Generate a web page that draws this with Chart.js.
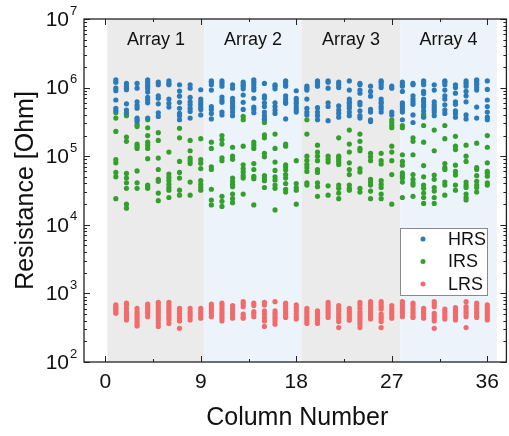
<!DOCTYPE html>
<html>
<head>
<meta charset="utf-8">
<script src="https://cdn.jsdelivr.net/npm/chart.js@4.4.1/dist/chart.umd.min.js"></script>
<style>
  html, body { margin: 0; padding: 0; background: #fff; }
</style>
</head>
<body>
<canvas id="myChart" width="509" height="436"></canvas>
<script>
// columnas 1..36
const columns = [1, 2, 3, 4, 5, 6, 7, 8, 9, 10, 11, 12, 13, 14, 15, 16, 17, 18,
  19, 20, 21, 22, 23, 24, 25, 26, 27, 28, 29, 30, 31, 32, 33, 34, 35, 36];

// resistencias por columna [Ohm]
const hrsByColumn = [
  [1.3e6, 1.2e6, 9.8e5, 9.0e5, 6.6e5, 5.0e5, 4.6e5],
  [1.15e6, 1.05e6, 9.8e5, 9.3e5, 5.8e5, 4.7e5, 4.3e5],
  [1.15e6, 9.8e5, 6.2e5, 5.5e5, 5.0e5, 3.6e5, 3.4e5, 3.2e5],
  [1.3e6, 1.2e6, 1.1e6, 1.03e6, 9.6e5, 8.6e5, 7.2e5, 6.6e5, 6.0e5, 3.6e5],
  [1.2e6, 1.1e6, 7.6e5, 7.0e5, 5.8e5, 4.3e5, 3.8e5],
  [1.25e6, 1.15e6, 1.1e6, 6.8e5, 5.9e5, 5.2e5],
  [1.1e6, 8.9e5, 7.5e5, 6.1e5, 5.0e5, 4.2e5, 3.9e5, 3.4e5],
  [1.1e6, 9.8e5, 7.2e5, 6.2e5, 5.6e5, 5.0e5, 4.5e5, 3.6e5],
  [9.3e5, 6.8e5, 6.2e5, 5.7e5, 5.2e5, 4.8e5, 4.0e5],
  [1.25e6, 1.2e6, 1.1e6, 9.2e5, 5.3e5, 4.8e5, 4.2e5, 3.5e5],
  [1.25e6, 1.15e6, 1.05e6, 7.3e5, 6.6e5, 6.1e5, 4.4e5, 4.0e5],
  [1.1e6, 9.8e5, 7.0e5, 6.3e5, 5.8e5, 5.3e5, 4.9e5, 4.4e5, 3.9e5],
  [1.2e6, 1.1e6, 1.05e6, 9.6e5, 7.8e5, 6.1e5, 4.8e5],
  [1.3e6, 1.2e6, 1.1e6, 1.0e6, 9.2e5, 7.0e5, 5.2e5, 4.8e5, 4.3e5],
  [1.15e6, 7.6e5, 7.0e5, 6.0e5, 5.3e5, 4.4e5, 3.9e5, 3.5e5],
  [1.1e6, 1.05e6, 9.6e5, 6.0e5, 5.3e5, 4.7e5, 4.2e5],
  [1.25e6, 1.2e6, 1.1e6, 1.05e6, 7.6e5, 6.8e5, 6.2e5, 5.9e5, 3.5e5],
  [9.0e5, 7.0e5, 6.4e5, 5.9e5, 5.3e5, 4.8e5, 4.4e5],
  [1.05e6, 9.8e5, 9.2e5, 6.8e5, 5.0e5, 4.4e5, 4.0e5],
  [1.25e6, 1.2e6, 1.1e6, 1.05e6, 5.1e5, 4.4e5, 3.9e5, 3.4e5],
  [1.25e6, 1.2e6, 9.8e5, 6.0e5, 5.3e5, 3.3e5],
  [1.2e6, 1.1e6, 1.0e6, 5.4e5, 4.7e5, 4.2e5, 3.7e5],
  [1.25e6, 9.2e5, 6.8e5, 6.2e5, 5.9e5, 5.4e5, 5.0e5, 4.4e5, 3.9e5],
  [1.15e6, 1.1e6, 9.2e5, 8.3e5, 6.1e5, 5.6e5, 4.6e5, 3.9e5, 3.6e5],
  [1.05e6, 8.8e5, 7.5e5, 4.8e5, 4.4e5, 3.4e5, 3.2e5],
  [1.25e6, 1.2e6, 1.1e6, 1.0e6, 6.8e5, 6.2e5, 5.9e5, 5.3e5, 4.9e5, 4.4e5],
  [1.05e6, 9.8e5, 4.4e5, 4.0e5],
  [1.2e6, 1.1e6, 1.05e6, 8.8e5, 6.0e5, 5.6e5, 5.2e5, 4.8e5, 4.4e5, 3.4e5],
  [1.15e6, 1.1e6, 7.6e5, 6.8e5, 6.2e5, 5.7e5, 4.0e5, 3.1e5],
  [1.25e6, 1.2e6, 1.1e6, 8.8e5, 8.2e5, 6.8e5, 6.2e5, 5.6e5, 5.2e5, 4.6e5, 3.7e5],
  [1.1e6, 9.2e5, 6.2e5, 5.6e5, 5.2e5, 4.8e5, 4.4e5, 3.9e5],
  [1.25e6, 1.2e6, 1.1e6, 9.2e5, 7.6e5, 6.8e5, 5.6e5, 4.7e5, 4.2e5],
  [1.1e6, 1.0e6, 8.3e5, 6.2e5, 5.7e5, 4.6e5, 4.2e5, 3.7e5],
  [1.25e6, 1.15e6, 1.05e6, 8.8e5, 7.6e5, 6.2e5, 4.0e5, 3.5e5],
  [1.3e6, 1.25e6, 1.15e6, 1.1e6, 1.0e6, 9.2e5, 5.2e5, 3.6e5],
  [1.25e6, 9.4e5, 6.6e5, 5.3e5, 4.4e5, 3.7e5, 3.4e5]
];

const irsByColumn = [
  [4.3e5, 3.6e5, 2.3e5, 8.9e4, 8.0e4, 5.8e4, 5.0e4, 2.4e4],
  [4.1e5, 3.9e5, 1.9e5, 1.65e5, 5.6e4, 4.8e4, 4.1e4, 3.4e4, 2.0e4, 1.75e4],
  [2.9e5, 2.7e5, 1.5e5, 1.4e5, 1.3e5, 6.1e4, 4.1e4, 3.4e4],
  [3.4e5, 2.6e5, 2.0e5, 1.6e5, 1.45e5, 1.3e5, 9.2e4, 3.8e4, 3.6e4, 3.4e4],
  [2.2e5, 1.7e5, 9.4e4, 6.4e4, 4.6e4, 4.3e4, 2.9e4, 2.25e4],
  [1.15e5, 5.5e4, 4.9e4, 4.4e4, 3.9e4, 3.5e4, 3.2e4, 2.5e4],
  [2.55e5, 1.85e5, 8.4e4, 5.8e4, 4.8e4, 3.2e4, 2.7e4],
  [1.7e5, 1.2e5, 9.4e4, 8.6e4, 7.8e4, 4.2e4, 2.7e4],
  [1.8e5, 8.9e4, 7.9e4, 6.6e4, 4.4e4, 3.9e4, 3.5e4, 3.2e4],
  [1.6e5, 1.3e5, 7.0e4, 6.4e4, 3.3e4, 2.3e4, 1.95e4],
  [2.0e5, 1.75e5, 1.5e5, 9.5e4, 8.6e4, 2.6e4, 2.2e4, 1.85e4],
  [1.35e5, 1.0e5, 9.0e4, 4.8e4, 4.3e4, 3.9e4, 3.6e4, 2.8e4, 2.4e4, 2.1e4],
  [3.8e5, 3.4e5, 1.4e5, 7.5e4, 6.6e4, 5.9e4, 5.2e4, 4.8e4, 2.8e4],
  [1.6e5, 1.45e5, 1.3e5, 7.8e4, 6.4e4, 5.1e4, 4.7e4, 1.95e4],
  [3.4e5, 3.1e5, 2.05e5, 1.85e5, 1.1e5, 9.8e4, 5.2e4, 4.8e4, 4.4e4, 3.5e4],
  [2.1e5, 1.3e5, 8.2e4, 6.2e4, 5.0e4, 4.5e4, 3.8e4, 3.4e4, 1.65e4],
  [1.5e5, 1.4e5, 7.5e4, 7.0e4, 6.3e4, 5.4e4, 4.8e4, 4.0e4, 3.3e4, 3.0e4],
  [8.6e4, 4.0e4, 3.5e4, 3.2e4, 2.0e4],
  [3.4e5, 2.1e5, 1.0e5, 8.7e4, 7.6e4, 6.8e4, 6.0e4, 4.1e4, 3.8e4],
  [1.45e5, 1.15e5, 1.0e5, 8.6e4, 6.4e4, 5.8e4, 4.1e4, 3.6e4, 2.6e4],
  [1.0e5, 9.0e4, 8.2e4, 3.7e4, 2.7e4],
  [1.85e5, 1.0e5, 9.5e4, 8.8e4, 8.2e4, 7.6e4, 3.8e4, 3.4e4, 2.9e4, 2.4e4],
  [2.4e5, 1.5e5, 1.15e5, 8.0e4, 6.4e4, 5.4e4, 3.8e4, 3.4e4, 3.2e4],
  [2.1e5, 1.65e5, 1.3e5, 1.2e5, 6.6e4, 5.9e4, 3.4e4, 3.0e4],
  [1.1e5, 9.8e4, 8.6e4, 4.6e4, 4.2e4, 3.8e4, 3.1e4, 2.4e4],
  [1.1e5, 8.6e4, 7.7e4, 4.4e4, 3.9e4, 3.5e4, 2.8e4, 2.4e4],
  [3.4e5, 3.1e5, 2.8e5, 2.6e5, 1.4e5, 1.15e5, 8.6e4, 5.4e4, 2.0e4],
  [2.8e5, 2.6e5, 1.05e5, 8.4e4, 7.4e4, 5.7e4, 5.2e4, 4.8e4, 4.2e4, 2.5e4],
  [1.85e5, 1.65e5, 1.05e5, 5.4e4, 4.6e4, 4.1e4, 3.8e4, 2.6e4],
  [4.1e5, 3.8e5, 2.8e5, 1.6e5, 7.3e4, 5.0e4, 3.8e4, 3.4e4, 2.9e4, 2.5e4, 2.05e4],
  [2.4e5, 1.2e5, 5.3e4, 4.6e4, 3.5e4, 3.1e4, 2.5e4, 2.05e4],
  [2.8e5, 1.8e5, 7.8e4, 6.8e4, 6.4e4, 4.2e4, 3.8e4, 2.7e4],
  [1.95e5, 1.4e5, 1.25e5, 7.4e4, 6.0e4, 5.3e4, 3.8e4, 3.2e4],
  [1.45e5, 1.0e5, 8.4e4, 4.2e4, 3.8e4, 3.5e4, 2.8e4, 2.5e4, 2.3e4],
  [1.55e5, 6.8e4, 6.4e4, 5.2e4, 4.3e4, 3.8e4, 3.5e4, 3.0e4],
  [2.0e5, 1.35e5, 8.0e4, 6.0e4, 5.6e4, 5.1e4, 4.1e4, 3.8e4]
];

const lrsByColumn = [
  [680, 640, 606, 575, 542, 512],
  [720, 680, 606, 555, 512, 470, 434, 410],
  [606, 542, 500, 458, 424, 388, 356, 335],
  [700, 640, 590, 542, 500, 458],
  [740, 680, 620, 575, 530, 485, 445, 410, 365, 330],
  [740, 680, 620, 575, 530, 485, 445, 410, 365],
  [606, 555, 512, 470, 434, 397, 310],
  [606, 542, 500, 458, 410],
  [606, 555, 512, 470, 434],
  [700, 640, 590, 542, 500, 458],
  [720, 665, 606, 555, 512, 470, 434, 397],
  [665, 606, 555, 512, 470, 434],
  [757, 700, 640, 500, 458, 434],
  [720, 665, 542, 500, 458],
  [740, 680, 555, 500, 445, 397, 330],
  [757, 555, 512, 470, 434, 397, 356],
  [720, 665, 606, 555, 512, 470, 445],
  [680, 620, 555, 500, 458, 424],
  [606, 555, 512, 470, 434, 397, 365],
  [555, 512, 470, 434, 397, 365],
  [740, 680, 620, 575, 530, 485, 445],
  [665, 606, 555, 500, 458, 424, 388, 318],
  [606, 555, 512, 470, 434, 405],
  [740, 680, 606, 542, 500, 458, 424, 388, 356, 318],
  [757, 700, 640, 590, 542, 500, 458, 424],
  [757, 700, 640, 590, 500, 458, 424, 388, 318],
  [665, 606, 555, 512, 470, 434],
  [757, 700, 640, 590, 542, 500, 458],
  [720, 665, 606, 555, 512, 470, 445],
  [606, 555, 512, 470, 434],
  [757, 700, 640, 512, 470, 434, 397, 310],
  [590, 542, 500, 458, 424],
  [620, 575, 530, 485, 445, 410],
  [757, 640, 590, 542, 500, 458, 318],
  [720, 665, 606, 555, 512, 470, 445],
  [680, 620, 575, 530, 485, 445, 410]
];

const xTicks = [0, 9, 18, 27, 36];
const xMinorTicks = [4.5, 13.5, 22.5, 31.5];
const yExponents = [2, 3, 4, 5, 6, 7];
const arrayNames = ['Array 1', 'Array 2', 'Array 3', 'Array 4'];
const arrayLimits = [0.2, 9.35, 18.5, 27.8, 36.9];

const FONT = '"Liberation Sans", Arial, Helvetica, sans-serif';

const toPoints = (byColumn) =>
  byColumn.flatMap((vals, i) => vals.map(v => ({ x: columns[i], y: v })));

// fondos grises / azules de cada array
const bandsPlugin = {
  id: 'bands',
  beforeDatasetsDraw(chart) {
    const { ctx, chartArea, scales } = chart;
    const colors = ['#ebebeb', '#edf3fa'];
    ctx.save();
    for (let i = 0; i < arrayNames.length; i++) {
      const x0 = scales.x.getPixelForValue(arrayLimits[i]);
      const x1 = scales.x.getPixelForValue(arrayLimits[i + 1]);
      ctx.fillStyle = colors[i % 2];
      ctx.fillRect(x0, chartArea.top, x1 - x0, chartArea.bottom - chartArea.top);
      ctx.fillStyle = '#111';
      ctx.font = '18px ' + FONT;
      ctx.textAlign = 'center';
      ctx.textBaseline = 'middle';
      ctx.fillText(arrayNames[i], (x0 + x1) / 2, chartArea.top + 21);
    }
    ctx.restore();
  }
};

// marco, ticks, etiquetas, titulos y leyenda
const framePlugin = {
  id: 'frame',
  afterDraw(chart) {
    const { ctx, chartArea: a, scales } = chart;
    const xs = scales.x, ys = scales.y;
    ctx.save();
    ctx.strokeStyle = '#222';
    ctx.lineWidth = 1.3;
    ctx.strokeRect(a.left, a.top, a.right - a.left, a.bottom - a.top);

    ctx.lineWidth = 1;
    ctx.beginPath();
    xTicks.forEach(v => {
      const x = Math.round(xs.getPixelForValue(v)) + 0.5;
      ctx.moveTo(x, a.bottom); ctx.lineTo(x, a.bottom - 6);
      ctx.moveTo(x, a.top); ctx.lineTo(x, a.top + 6);
    });
    xMinorTicks.forEach(v => {
      const x = Math.round(xs.getPixelForValue(v)) + 0.5;
      ctx.moveTo(x, a.bottom); ctx.lineTo(x, a.bottom - 3);
      ctx.moveTo(x, a.top); ctx.lineTo(x, a.top + 3);
    });
    yExponents.forEach(e => {
      const y = Math.round(ys.getPixelForValue(Math.pow(10, e))) + 0.5;
      ctx.moveTo(a.left, y); ctx.lineTo(a.left + 6, y);
      ctx.moveTo(a.right, y); ctx.lineTo(a.right - 6, y);
      if (e < 7) {
        for (let m = 2; m <= 9; m++) {
          const ym = Math.round(ys.getPixelForValue(m * Math.pow(10, e))) + 0.5;
          ctx.moveTo(a.left, ym); ctx.lineTo(a.left + 3, ym);
          ctx.moveTo(a.right, ym); ctx.lineTo(a.right - 3, ym);
        }
      }
    });
    ctx.stroke();

    ctx.fillStyle = '#111';
    ctx.font = '21px ' + FONT;
    ctx.textAlign = 'center';
    ctx.textBaseline = 'middle';
    xTicks.forEach(v => ctx.fillText(String(v), xs.getPixelForValue(v), a.bottom + 20));

    yExponents.forEach(e => {
      const y = ys.getPixelForValue(Math.pow(10, e)) + 1;
      ctx.font = '21px ' + FONT;
      ctx.textAlign = 'right';
      ctx.textBaseline = 'middle';
      ctx.fillText('10', 69, y);
      ctx.font = '13px ' + FONT;
      ctx.textAlign = 'left';
      ctx.fillText(String(e), 70, y - 9);
    });

    ctx.font = '25px ' + FONT;
    ctx.textAlign = 'center';
    ctx.textBaseline = 'middle';
    ctx.fillText('Column Number', (a.left + a.right) / 2 + 2, 418);
    ctx.save();
    ctx.translate(26, (a.top + a.bottom) / 2);
    ctx.rotate(-Math.PI / 2);
    ctx.fillText('Resistance [Ohm]', 0, 0);
    ctx.restore();

    // leyenda
    ctx.fillStyle = '#fff';
    ctx.fillRect(400, 228, 87, 67);
    ctx.strokeStyle = '#8a8a8a';
    ctx.lineWidth = 1;
    ctx.strokeRect(400.5, 228.5, 87, 67);
    ctx.font = '18px ' + FONT;
    ctx.textAlign = 'left';
    chart.data.datasets.forEach((ds, i) => {
      const y = 239 + i * 22.5;
      ctx.fillStyle = ds.backgroundColor;
      ctx.beginPath();
      ctx.arc(423, y, 2.5, 0, Math.PI * 2);
      ctx.fill();
      ctx.fillStyle = '#111';
      ctx.fillText(ds.label, 448, y + 1);
    });
    ctx.restore();
  }
};

const ctx = document.getElementById('myChart').getContext('2d');
new Chart(ctx, {
  type: 'scatter',
  data: {
    datasets: [
      { label: 'HRS', data: toPoints(hrsByColumn), backgroundColor: '#2b7bba' },
      { label: 'IRS', data: toPoints(irsByColumn), backgroundColor: '#33a02c' },
      { label: 'LRS', data: toPoints(lrsByColumn), backgroundColor: '#f26b6b' }
    ]
  },
  options: {
    responsive: false,
    animation: false,
    layout: { padding: { left: 84, top: 19, right: 1, bottom: 74 } },
    elements: { point: { radius: 2.6, borderWidth: 0, hoverRadius: 2.6 } },
    plugins: { legend: { display: false }, tooltip: { enabled: false } },
    scales: {
      x: { type: 'linear', min: -2, max: 37.8, display: false },
      y: { type: 'logarithmic', min: 100, max: 1e7, display: false }
    }
  },
  plugins: [bandsPlugin, framePlugin]
});
</script>
</body>
</html>
